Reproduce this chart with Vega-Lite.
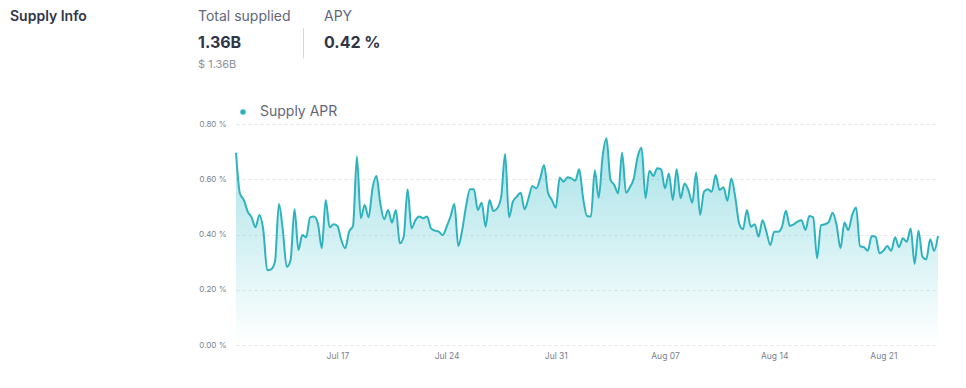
{
  "$schema": "https://vega.github.io/schema/vega-lite/v6.json",
  "background": "white",
  "padding": {"left": 10, "top": 5, "right": 5, "bottom": 5},
  "spacing": 28,
  "resolve": {"legend": {"color": "independent"}, "scale": {"color": "independent"}},
  "config": {
    "font": "Inter",
    "view": {"stroke": null}
  },
  "vconcat": [
    {
      "spacing": 10,
      "hconcat": [
        {
          "width": 178,
          "height": 24,
          "data": {"values": [{"label": "Supply Info"}]},
          "mark": {"type": "text", "align": "left", "baseline": "middle", "fontSize": 14, "fontWeight": 600, "color": "#303549"},
          "encoding": {
            "text": {"field": "label"},
            "x": {"datum": 0, "type": "quantitative", "scale": {"domain": [0, 1]}, "axis": null}
          }
        },
        {
          "width": 95,
          "height": 72,
          "data": {"values": [
            {"line": "a", "label": "Total supplied"},
            {"line": "b", "label": "1.36B"},
            {"line": "c", "label": "$ 1.36B"}
          ]},
          "encoding": {
            "text": {"field": "label"},
            "x": {"datum": 0, "type": "quantitative", "scale": {"domain": [0, 1]}, "axis": null},
            "y": {"field": "line", "type": "ordinal", "axis": null, "scale": {"domain": ["a", "b", "c"]}}
          },
          "layer": [
            {"transform": [{"filter": "datum.line === 'a'"}], "mark": {"type": "text", "align": "left", "baseline": "middle", "fontSize": 14, "color": "#62677B"}},
            {"transform": [{"filter": "datum.line === 'b'"}], "mark": {"type": "text", "align": "left", "baseline": "middle", "dy": 2, "fontSize": 16, "fontWeight": 700, "color": "#303549"}},
            {"transform": [{"filter": "datum.line === 'c'"}], "mark": {"type": "text", "align": "left", "baseline": "middle", "fontSize": 11, "color": "#8D90A0"}}
          ]
        },
        {
          "spacing": 20,
          "hconcat": [
            {
              "width": 1,
              "height": 72,
              "data": {"values": [{"from": 0.68, "to": 0.26}]},
              "mark": {"type": "rule", "color": "#D3D6DC", "strokeWidth": 1},
              "encoding": {
                "x": {"datum": 0.5, "type": "quantitative", "scale": {"domain": [0, 1]}, "axis": null},
                "y": {"field": "from", "type": "quantitative", "scale": {"domain": [0, 1]}, "axis": null},
                "y2": {"field": "to"}
              }
            },
            {
              "width": 80,
              "height": 72,
              "data": {"values": [
                {"line": "a", "label": "APY"},
                {"line": "b", "label": "0.42 %"}
              ]},
              "encoding": {
                "text": {"field": "label"},
                "x": {"datum": 0, "type": "quantitative", "scale": {"domain": [0, 1]}, "axis": null},
                "y": {"field": "line", "type": "ordinal", "axis": null, "scale": {"domain": ["a", "b", "c"]}}
              },
              "layer": [
                {"transform": [{"filter": "datum.line === 'a'"}], "mark": {"type": "text", "align": "left", "baseline": "middle", "fontSize": 14, "color": "#62677B"}},
                {"transform": [{"filter": "datum.line === 'b'"}], "mark": {"type": "text", "align": "left", "baseline": "middle", "dy": 2, "fontSize": 16, "fontWeight": 700, "color": "#303549"}}
              ]
            }
          ]
        }
      ]
    },
    {
      "spacing": 10,
      "resolve": {"legend": {"color": "independent"}, "scale": {"color": "independent"}},
      "hconcat": [
        {
          "width": 178,
          "height": 10,
          "data": {"values": [{"label": ""}]},
          "mark": {"type": "text"},
          "encoding": {"text": {"field": "label"}}
        },
        {
          "width": 702,
          "height": 221,
          "data": {"values": [
            {"t": "2022-07-10T12:00", "v": 0.696}, {"t": "2022-07-10T18:00", "v": 0.549},
            {"t": "2022-07-11T00:00", "v": 0.525}, {"t": "2022-07-11T06:00", "v": 0.483}, {"t": "2022-07-11T12:00", "v": 0.462}, {"t": "2022-07-11T18:00", "v": 0.426},
            {"t": "2022-07-12T00:00", "v": 0.471}, {"t": "2022-07-12T06:00", "v": 0.416}, {"t": "2022-07-12T12:00", "v": 0.271}, {"t": "2022-07-12T18:00", "v": 0.274},
            {"t": "2022-07-13T00:00", "v": 0.302}, {"t": "2022-07-13T06:00", "v": 0.510}, {"t": "2022-07-13T12:00", "v": 0.416}, {"t": "2022-07-13T18:00", "v": 0.283},
            {"t": "2022-07-14T00:00", "v": 0.308}, {"t": "2022-07-14T06:00", "v": 0.491}, {"t": "2022-07-14T12:00", "v": 0.344}, {"t": "2022-07-14T18:00", "v": 0.398},
            {"t": "2022-07-15T00:00", "v": 0.390}, {"t": "2022-07-15T06:00", "v": 0.462}, {"t": "2022-07-15T12:00", "v": 0.465}, {"t": "2022-07-15T18:00", "v": 0.440},
            {"t": "2022-07-16T00:00", "v": 0.350}, {"t": "2022-07-16T06:00", "v": 0.525}, {"t": "2022-07-16T12:00", "v": 0.426}, {"t": "2022-07-16T18:00", "v": 0.437},
            {"t": "2022-07-17T00:00", "v": 0.431}, {"t": "2022-07-17T06:00", "v": 0.380}, {"t": "2022-07-17T12:00", "v": 0.350}, {"t": "2022-07-17T18:00", "v": 0.410},
            {"t": "2022-07-18T00:00", "v": 0.431}, {"t": "2022-07-18T06:00", "v": 0.682}, {"t": "2022-07-18T12:00", "v": 0.459}, {"t": "2022-07-18T18:00", "v": 0.507},
            {"t": "2022-07-19T00:00", "v": 0.462}, {"t": "2022-07-19T06:00", "v": 0.567}, {"t": "2022-07-19T12:00", "v": 0.612}, {"t": "2022-07-19T18:00", "v": 0.513},
            {"t": "2022-07-20T00:00", "v": 0.455}, {"t": "2022-07-20T06:00", "v": 0.489}, {"t": "2022-07-20T12:00", "v": 0.443}, {"t": "2022-07-20T18:00", "v": 0.489},
            {"t": "2022-07-21T00:00", "v": 0.368}, {"t": "2022-07-21T06:00", "v": 0.392}, {"t": "2022-07-21T12:00", "v": 0.564}, {"t": "2022-07-21T18:00", "v": 0.422},
            {"t": "2022-07-22T00:00", "v": 0.452}, {"t": "2022-07-22T06:00", "v": 0.465}, {"t": "2022-07-22T12:00", "v": 0.459}, {"t": "2022-07-22T18:00", "v": 0.465},
            {"t": "2022-07-23T00:00", "v": 0.422}, {"t": "2022-07-23T06:00", "v": 0.414}, {"t": "2022-07-23T12:00", "v": 0.410}, {"t": "2022-07-23T18:00", "v": 0.398},
            {"t": "2022-07-24T00:00", "v": 0.428}, {"t": "2022-07-24T06:00", "v": 0.465}, {"t": "2022-07-24T12:00", "v": 0.510}, {"t": "2022-07-24T18:00", "v": 0.358},
            {"t": "2022-07-25T00:00", "v": 0.416}, {"t": "2022-07-25T06:00", "v": 0.503}, {"t": "2022-07-25T12:00", "v": 0.564}, {"t": "2022-07-25T18:00", "v": 0.564},
            {"t": "2022-07-26T00:00", "v": 0.489}, {"t": "2022-07-26T06:00", "v": 0.515}, {"t": "2022-07-26T12:00", "v": 0.428}, {"t": "2022-07-26T18:00", "v": 0.525},
            {"t": "2022-07-27T00:00", "v": 0.485}, {"t": "2022-07-27T06:00", "v": 0.495}, {"t": "2022-07-27T12:00", "v": 0.537}, {"t": "2022-07-27T18:00", "v": 0.691},
            {"t": "2022-07-28T00:00", "v": 0.462}, {"t": "2022-07-28T06:00", "v": 0.519}, {"t": "2022-07-28T12:00", "v": 0.537}, {"t": "2022-07-28T18:00", "v": 0.551},
            {"t": "2022-07-29T00:00", "v": 0.491}, {"t": "2022-07-29T06:00", "v": 0.531}, {"t": "2022-07-29T12:00", "v": 0.576}, {"t": "2022-07-29T18:00", "v": 0.567},
            {"t": "2022-07-30T00:00", "v": 0.603}, {"t": "2022-07-30T06:00", "v": 0.652}, {"t": "2022-07-30T12:00", "v": 0.551}, {"t": "2022-07-30T18:00", "v": 0.525},
            {"t": "2022-07-31T00:00", "v": 0.497}, {"t": "2022-07-31T06:00", "v": 0.606}, {"t": "2022-07-31T12:00", "v": 0.591}, {"t": "2022-07-31T18:00", "v": 0.607},
            {"t": "2022-08-01T00:00", "v": 0.603}, {"t": "2022-08-01T06:00", "v": 0.595}, {"t": "2022-08-01T12:00", "v": 0.636}, {"t": "2022-08-01T18:00", "v": 0.531},
            {"t": "2022-08-02T00:00", "v": 0.467}, {"t": "2022-08-02T06:00", "v": 0.465}, {"t": "2022-08-02T12:00", "v": 0.633}, {"t": "2022-08-02T18:00", "v": 0.533},
            {"t": "2022-08-03T00:00", "v": 0.682}, {"t": "2022-08-03T06:00", "v": 0.748}, {"t": "2022-08-03T12:00", "v": 0.600}, {"t": "2022-08-03T18:00", "v": 0.579},
            {"t": "2022-08-04T00:00", "v": 0.549}, {"t": "2022-08-04T06:00", "v": 0.696}, {"t": "2022-08-04T12:00", "v": 0.551}, {"t": "2022-08-04T18:00", "v": 0.571},
            {"t": "2022-08-05T00:00", "v": 0.603}, {"t": "2022-08-05T06:00", "v": 0.682}, {"t": "2022-08-05T12:00", "v": 0.714}, {"t": "2022-08-05T18:00", "v": 0.531},
            {"t": "2022-08-06T00:00", "v": 0.631}, {"t": "2022-08-06T06:00", "v": 0.612}, {"t": "2022-08-06T12:00", "v": 0.640}, {"t": "2022-08-06T18:00", "v": 0.636},
            {"t": "2022-08-07T00:00", "v": 0.567}, {"t": "2022-08-07T06:00", "v": 0.621}, {"t": "2022-08-07T12:00", "v": 0.525}, {"t": "2022-08-07T18:00", "v": 0.636},
            {"t": "2022-08-08T00:00", "v": 0.531}, {"t": "2022-08-08T06:00", "v": 0.585}, {"t": "2022-08-08T12:00", "v": 0.561}, {"t": "2022-08-08T18:00", "v": 0.515},
            {"t": "2022-08-09T00:00", "v": 0.624}, {"t": "2022-08-09T06:00", "v": 0.471}, {"t": "2022-08-09T12:00", "v": 0.555}, {"t": "2022-08-09T18:00", "v": 0.564},
            {"t": "2022-08-10T00:00", "v": 0.555}, {"t": "2022-08-10T06:00", "v": 0.615}, {"t": "2022-08-10T12:00", "v": 0.561}, {"t": "2022-08-10T18:00", "v": 0.571},
            {"t": "2022-08-11T00:00", "v": 0.522}, {"t": "2022-08-11T06:00", "v": 0.603}, {"t": "2022-08-11T12:00", "v": 0.537}, {"t": "2022-08-11T18:00", "v": 0.440},
            {"t": "2022-08-12T00:00", "v": 0.419}, {"t": "2022-08-12T06:00", "v": 0.489}, {"t": "2022-08-12T12:00", "v": 0.428}, {"t": "2022-08-12T18:00", "v": 0.437},
            {"t": "2022-08-13T00:00", "v": 0.392}, {"t": "2022-08-13T06:00", "v": 0.452}, {"t": "2022-08-13T12:00", "v": 0.410}, {"t": "2022-08-13T18:00", "v": 0.362},
            {"t": "2022-08-14T00:00", "v": 0.410}, {"t": "2022-08-14T06:00", "v": 0.410}, {"t": "2022-08-14T12:00", "v": 0.428}, {"t": "2022-08-14T18:00", "v": 0.486},
            {"t": "2022-08-15T00:00", "v": 0.431}, {"t": "2022-08-15T06:00", "v": 0.437}, {"t": "2022-08-15T12:00", "v": 0.447}, {"t": "2022-08-15T18:00", "v": 0.452},
            {"t": "2022-08-16T00:00", "v": 0.416}, {"t": "2022-08-16T06:00", "v": 0.467}, {"t": "2022-08-16T12:00", "v": 0.462}, {"t": "2022-08-16T18:00", "v": 0.314},
            {"t": "2022-08-17T00:00", "v": 0.434}, {"t": "2022-08-17T06:00", "v": 0.437}, {"t": "2022-08-17T12:00", "v": 0.446}, {"t": "2022-08-17T18:00", "v": 0.479},
            {"t": "2022-08-18T00:00", "v": 0.434}, {"t": "2022-08-18T06:00", "v": 0.350}, {"t": "2022-08-18T12:00", "v": 0.443}, {"t": "2022-08-18T18:00", "v": 0.416},
            {"t": "2022-08-19T00:00", "v": 0.471}, {"t": "2022-08-19T06:00", "v": 0.498}, {"t": "2022-08-19T12:00", "v": 0.358}, {"t": "2022-08-19T18:00", "v": 0.354},
            {"t": "2022-08-20T00:00", "v": 0.341}, {"t": "2022-08-20T06:00", "v": 0.395}, {"t": "2022-08-20T12:00", "v": 0.392}, {"t": "2022-08-20T18:00", "v": 0.332},
            {"t": "2022-08-21T00:00", "v": 0.341}, {"t": "2022-08-21T06:00", "v": 0.358}, {"t": "2022-08-21T12:00", "v": 0.341}, {"t": "2022-08-21T18:00", "v": 0.390},
            {"t": "2022-08-22T00:00", "v": 0.354}, {"t": "2022-08-22T06:00", "v": 0.386}, {"t": "2022-08-22T12:00", "v": 0.374}, {"t": "2022-08-22T18:00", "v": 0.422},
            {"t": "2022-08-23T00:00", "v": 0.293}, {"t": "2022-08-23T06:00", "v": 0.414}, {"t": "2022-08-23T12:00", "v": 0.320}, {"t": "2022-08-23T18:00", "v": 0.310},
            {"t": "2022-08-24T00:00", "v": 0.383}, {"t": "2022-08-24T06:00", "v": 0.341}, {"t": "2022-08-24T12:00", "v": 0.395}
          ]},
          "encoding": {
            "x": {
              "field": "t", "type": "temporal", "title": null,
              "axis": {
                "format": "%b %d", "tickCount": {"interval": "week", "step": 1},
                "grid": false, "domain": false, "ticks": false, "tickSize": 0,
                "labelPadding": 6, "labelFontSize": 8.5, "labelColor": "#7B7F8E"
              }
            },
            "y": {
              "field": "v", "type": "quantitative", "title": null,
              "scale": {"domain": [0, 0.8], "nice": false},
              "axis": {
                "values": [0, 0.2, 0.4, 0.6, 0.8],
                "labelExpr": "format(datum.value, '.2f') + ' %'",
                "domain": false, "ticks": false, "tickSize": 0,
                "labelPadding": 10, "labelFontSize": 8, "labelColor": "#7B7F8E",
                "grid": true, "gridColor": "#E6E7EB", "gridDash": [3, 3], "gridWidth": 1
              }
            }
          },
          "layer": [
            {
              "mark": {
                "type": "area", "interpolate": "monotone",
                "color": {
                  "gradient": "linear", "x1": 0, "y1": 0, "x2": 0, "y2": 1,
                  "stops": [
                    {"offset": 0, "color": "rgba(46,186,198,0.42)"},
                    {"offset": 1, "color": "rgba(46,186,198,0.0)"}
                  ]
                }
              }
            },
            {
              "mark": {"type": "line", "interpolate": "monotone", "strokeWidth": 2},
              "encoding": {
                "color": {
                  "datum": "Supply APR",
                  "scale": {"range": ["#2EB3BE"]},
                  "legend": {
                    "title": null, "orient": "top", "offset": 5,
                    "symbolType": "circle", "symbolSize": 30,
                    "labelFontSize": 14, "labelColor": "#62677B", "labelOffset": 10,
                    "encode": {"symbols": {"update": {"fill": {"value": "#2EB3BE"}, "strokeWidth": {"value": 0}}}}
                  }
                }
              }
            }
          ]
        }
      ]
    }
  ]
}
